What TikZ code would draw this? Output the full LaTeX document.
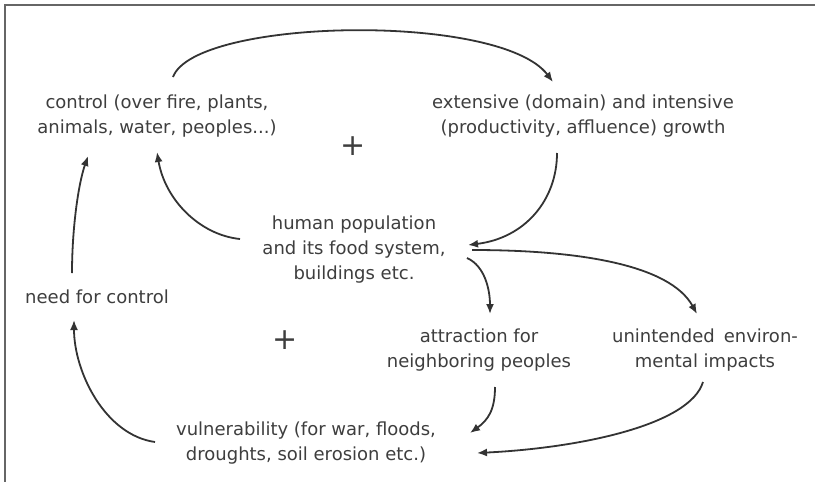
\documentclass[tikz,border=0pt]{standalone}
\usepackage{fontspec}
\setmainfont{DejaVu Sans}
\usetikzlibrary{arrows.meta}
\definecolor{inkText}{HTML}{3E3E3E}
\definecolor{inkLine}{HTML}{333333}
\definecolor{frameGray}{HTML}{666666}
\tikzset{
  label/.style={align=center, text=inkText, inner sep=0pt,
    font=\fontsize{18}{25}\selectfont},
  sign/.style={text=inkText, inner sep=0pt, font=\fontsize{30}{30}\selectfont},
  link/.style={draw=inkLine, line width=1.8pt,
    -{Latex[length=10pt,width=8pt]}},
}
\begin{document}
\begin{tikzpicture}[x=1pt,y=-1pt]
  \useasboundingbox (0,0) rectangle (815,482);
  \fill[white] (0,0) rectangle (815,482);
  % frame edges
  \draw[frameGray, line width=2pt] (5,482) -- (5,5) -- (815,5);

  % concepts
  \node[label] (control) at (157,116) {control (over fire, plants,\\animals, water, peoples...)};
  \node[label] (growth) at (583,116) {extensive (domain) and intensive\\(productivity, affluence) growth};
  \node[label] (human) at (354,250) {human population\\and its food system,\\buildings etc.};
  \node[label] (need) at (97,297) {need for control};
  \node[label] (attract) at (479,350) {attraction for\\neighboring peoples};
  \node[label] (impacts) at (705,350) {unintended\enspace environ-\\mental impacts};
  \node[label] (vuln) at (306,443) {vulnerability (for war, floods,\\droughts, soil erosion etc.)};

  % loop polarity signs
  \node[sign] (plusA) at (353,146) {+};
  \node[sign] (plusB) at (285,340) {+};

  % causal links
  \draw[link] ([shift={(16,-39)}]control.center)
    .. controls (195,18) and (500,12) .. ([shift={(-30,-34)}]growth.center);
  \draw[link] ([shift={(-26,37)}]growth.center)
    .. controls (557,200) and (525,238) .. ([shift={(114,-5)}]human.center);
  \draw[link] ([shift={(-114,-11)}]human.center)
    .. controls (200,235) and (165,200) .. ([shift={(0,36)}]control.center);
  \draw[link] ([shift={(-25,-24)}]need.center)
    .. controls (72,230) and (78,185) .. ([shift={(-69,40)}]control.center);
  \draw[link] ([shift={(-151,-1)}]vuln.center)
    .. controls (105,435) and (74,372) .. ([shift={(-23,23)}]need.center);
  \draw[link] ([shift={(113,8)}]human.center)
    .. controls (485,266) and (490,290) .. ([shift={(11,-36)}]attract.center);
  \draw[link] ([shift={(118,0)}]human.center)
    .. controls (580,250) and (670,265) .. ([shift={(-8,-36)}]impacts.center);
  \draw[link] ([shift={(16,37)}]attract.center)
    .. controls (495,410) and (488,420) .. ([shift={(164,-10)}]vuln.center);
  \draw[link] ([shift={(-2,32)}]impacts.center)
    .. controls (690,425) and (580,448) .. ([shift={(171,10)}]vuln.center);
\end{tikzpicture}
\end{document}
